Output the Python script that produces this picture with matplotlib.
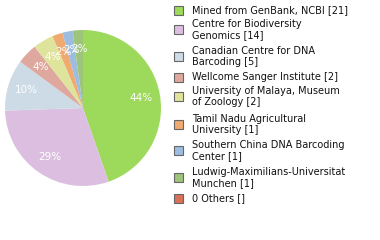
import matplotlib
matplotlib.use("Agg")
import math
import matplotlib.pyplot as plt
from matplotlib.patches import Rectangle

labels = ["Mined from GenBank, NCBI [21]",
          "Centre for Biodiversity\nGenomics [14]",
          "Canadian Centre for DNA\nBarcoding [5]",
          "Wellcome Sanger Institute [2]",
          "University of Malaya, Museum\nof Zoology [2]",
          "Tamil Nadu Agricultural\nUniversity [1]",
          "Southern China DNA Barcoding\nCenter [1]",
          "Ludwig-Maximilians-Universitat\nMunchen [1]",
          "0 Others []"]
values = [21, 14, 5, 2, 2, 1, 1, 1, 0]
colors = ["#9dd95b", "#dcbfe0", "#cddbe6", "#dfa89e", "#dfe49c",
          "#f0aa70", "#9cbde0", "#9ec47a", "#d9705a"]

W, H = 380, 240
fig = plt.figure(figsize=(W/100, H/100), dpi=100)
cx, cy, r = 83, 108, 78
ax = fig.add_axes([(cx - r)/W, (H - cy - r)/H, 2*r/W, 2*r/H])
pv = [v for v in values if v > 0]
pc = colors[:len(pv)]
wedges, texts, autotexts = ax.pie(pv, colors=pc, startangle=90, counterclock=False,
                                  autopct=lambda p: f"{math.floor(p):d}%", pctdistance=0.76,
                                  textprops=dict(color="white", fontsize=7.5),
                                  wedgeprops=dict(linewidth=0))
ax.set_xlim(-1, 1); ax.set_ylim(-1, 1)
ax.set_aspect("equal")
ax.axis("off")

tops = [10, 23, 50, 77, 90, 118, 144, 171, 198]
for lab, col, y in zip(labels, colors, tops):
    nl = lab.count("\n") + 1
    ymid = y + (nl - 1) * 6.3
    fig.patches.append(Rectangle((174/W, (H - ymid - 4.5)/H), 9/W, 9/H,
                                 transform=fig.transFigure, facecolor=col,
                                 edgecolor="#666666", linewidth=0.8))
    fig.text(192/W, (H - ymid)/H, lab, fontsize=7.0, va="center", ha="left",
             linespacing=1.15, color="#111111")

fig.savefig("out.png", dpi=100)
